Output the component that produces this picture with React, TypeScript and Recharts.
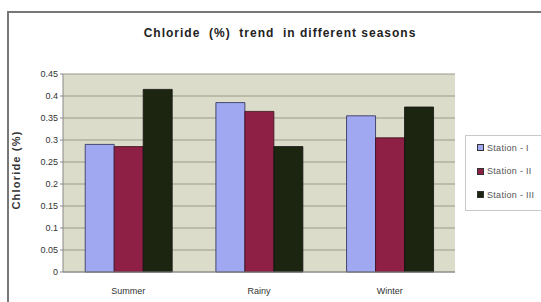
import React from 'react';
import { BarChart, Bar, XAxis, YAxis, CartesianGrid } from 'recharts';

const seasons = ['Summer', 'Rainy', 'Winter'];
const station1 = [0.29, 0.385, 0.355];
const station2 = [0.285, 0.365, 0.305];
const station3 = [0.415, 0.285, 0.375];
const yTicks = [0, 0.05, 0.1, 0.15, 0.2, 0.25, 0.3, 0.35, 0.4, 0.45];
const seriesNames = ['Station - I', 'Station - II', 'Station - III'];
const colors = ['#9fa8f0', '#8e1f45', '#1c2510'];

const data = seasons.map((s, i) => ({
  season: s,
  s1: station1[i],
  s2: station2[i],
  s3: station3[i],
}));

const font = 'Liberation Sans, Arial, sans-serif';

const LegendBox = () => (
  <div
    style={{
      position: 'absolute',
      left: 465,
      top: 135,
      border: '1px solid #c8c8c8',
      background: '#fff',
      width: 90,
      padding: '0 0 3px 11px',
      boxSizing: 'border-box',
      fontFamily: font,
      fontSize: 9,
      letterSpacing: 0.3,
      color: '#555',
    }}
  >
    {seriesNames.map((n, i) => (
      <div key={n} style={{ display: 'flex', alignItems: 'center', height: 23.5 }}>
        <span
          style={{
            display: 'inline-block',
            width: 5,
            height: 5,
            background: colors[i],
            border: '1px solid #333',
            marginRight: 3,
          }}
        />
        {n}
      </div>
    ))}
  </div>
);

export default function App() {
  return (
    <div style={{ position: 'absolute', left: 0, top: 0, width: 541, height: 302, background: '#fff', overflow: 'hidden' }}>
      <div
        style={{
          position: 'absolute',
          left: 7,
          top: 11,
          width: 560,
          height: 320,
          border: '2px solid #777',
          boxSizing: 'border-box',
        }}
      />
      <div
        style={{
          position: 'absolute',
          left: 130,
          top: 26,
          width: 300,
          textAlign: 'center',
          fontFamily: font,
          fontWeight: 'bold',
          fontSize: 12,
          letterSpacing: 1,
          whiteSpace: 'nowrap',
          color: '#222',
        }}
      >
        Chloride&nbsp;&nbsp;(%)&nbsp;&nbsp;trend&nbsp;&nbsp;in different seasons
      </div>
      <div
        style={{
          position: 'absolute',
          left: 16,
          top: 170,
          transform: 'translate(-50%, -50%) rotate(-90deg)',
          fontFamily: font,
          fontWeight: 'bold',
          fontSize: 11,
          letterSpacing: 1.2,
          color: '#333',
          whiteSpace: 'nowrap',
        }}
      >
        Chloride (%)
      </div>
      <div style={{ position: 'absolute', left: 0, top: 0 }}>
        <BarChart
          width={541}
          height={302}
          data={data}
          margin={{ top: 74, right: 86, bottom: 0, left: 23 }}
          barGap={0}
          barCategoryGap="17%"
        >
          <CartesianGrid vertical={false} stroke="#9a9a8a" fill="#dcdcca" />
          <XAxis
            dataKey="season"
            height={30}
            axisLine={{ stroke: '#888' }}
            tickLine={false}
            tick={{ fontFamily: font, fontSize: 9, fill: '#333' }}
            tickMargin={10}
          />
          <YAxis
            width={40}
            domain={[0, 0.45]}
            ticks={yTicks}
            interval={0}
            axisLine={{ stroke: '#888' }}
            tickLine={{ stroke: '#888' }}
            tickSize={3}
            tick={{ fontFamily: font, fontSize: 9, fill: '#333' }}
          />
          <Bar dataKey="s1" name={seriesNames[0]} fill={colors[0]} stroke="#2a2a55" strokeWidth={0.8} isAnimationActive={false} />
          <Bar dataKey="s2" name={seriesNames[1]} fill={colors[1]} stroke="#3a1020" strokeWidth={0.8} isAnimationActive={false} />
          <Bar dataKey="s3" name={seriesNames[2]} fill={colors[2]} stroke="#111" strokeWidth={0.8} isAnimationActive={false} />
        </BarChart>
      </div>
      <LegendBox />
    </div>
  );
}
